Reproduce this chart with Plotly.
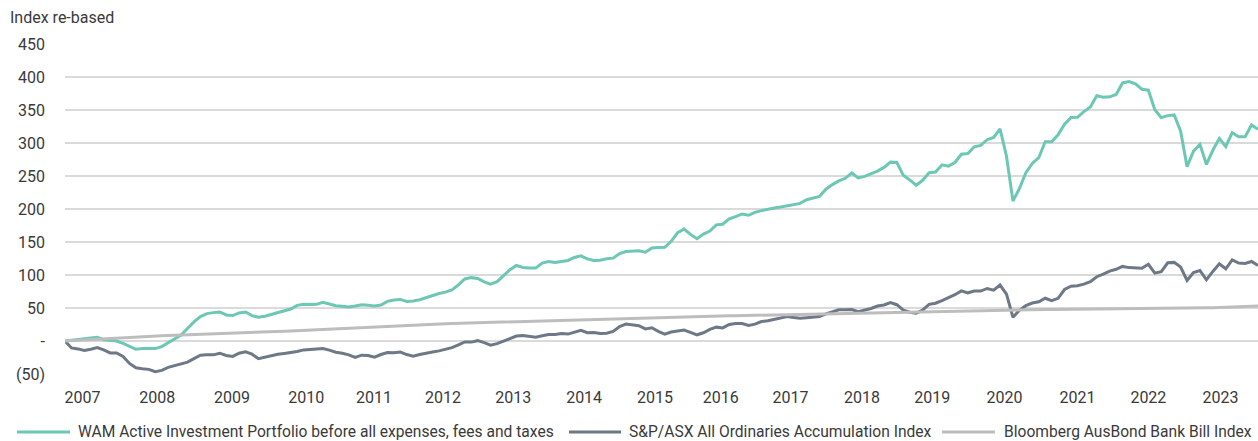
import plotly.graph_objects as go

# Monthly index values (re-based to 0), Jan 2008 -> Jun 2023
wam = [
    0, 1.5, 2.5, 3.5, 4.5, 5.6, 2, 0.5, 0, -3.5, -8.5, -12.5,
    -11.5, -11, -11.5, -8.5, -3, 3, 9, 19, 29, 37, 41.5, 43,
    44, 39.5, 38.5, 42.5, 44, 38.5, 36, 37.5, 40, 43, 46, 48.5,
    54, 55.5, 55.3, 55.5, 58.5, 56, 53.5, 52.7, 51.5, 53, 55, 54,
    53, 54.5, 60, 62, 63, 60, 60.5, 62.5, 66, 69, 72, 74,
    77.5, 85, 94, 96, 94.7, 89.5, 86, 90, 98.5, 108, 114.5, 111.5,
    110.5, 110.5, 118, 120.5, 119, 120, 122, 126.5, 129, 124.5, 122, 122.3,
    124.5, 125.5, 132.5, 135.5, 136.5, 136.8, 134.5, 141, 141.5, 142, 151, 164,
    169.5, 161.5, 155, 162, 166.5, 176, 177, 185, 188.5, 192.5, 190.5, 195,
    197.5, 200, 201.5, 203, 205, 206.3, 208.5, 214, 216.8, 219, 230, 237,
    242.5, 246.5, 254.5, 247, 249.5, 253, 257.5, 263, 271, 270.5, 251, 244,
    236, 243.5, 255, 256, 267, 265, 270.5, 283, 284, 294.2, 296.3, 305,
    308.5, 321.5, 280, 212, 231, 255, 269, 277.7, 302, 302, 312.5, 328.5,
    338.5, 338.8, 347.5, 354.5, 371.5, 369.5, 370, 373.5, 391, 393, 389.5, 381.5,
    380, 350.5, 338.5, 341.5, 342.5, 318, 264, 287.7, 298, 267.5, 289, 307,
    294.4, 315.7, 309.6, 309.4, 327.3, 320.7,
]

asx = [
    0, -10.5, -12, -14.5, -12.5, -10, -13.5, -18, -18, -23.5, -34, -40.5,
    -42, -43, -46.5, -44.5, -40, -37.5, -35.5, -32, -26.7, -21.5, -21, -21,
    -18.5, -22, -23.3, -18.5, -16.5, -20, -26.8, -24.5, -22.5, -20, -18.8, -17.8,
    -16, -13.5, -13, -11.8, -11.5, -13.8, -17, -18.5, -21, -25, -21.5, -22,
    -24.5, -20.5, -17.6, -17.7, -16.8, -20.5, -23, -20.5, -18, -16.6, -15, -12.8,
    -10, -6, -1.5, -1.7, 0.5, -2.5, -6.2, -4, 0, 3, 7.5, 8.3,
    7.6, 5.8, 8, 9.8, 10, 11.2, 10.5, 13.5, 16.3, 12.5, 13, 11.5,
    11.8, 14.5, 22, 25.6, 24.5, 23.2, 18.3, 20, 14.5, 10.5, 13.5, 15,
    16.5, 13, 9.4, 12.5, 17.7, 21, 19.8, 25, 26.5, 26.4, 23.7, 25.5,
    29.5, 30.6, 32.7, 35.5, 37.2, 35.5, 34.5, 35.3, 36, 37, 41, 44,
    47.3, 47.3, 47.7, 44.5, 46.5, 49.3, 53, 54.6, 58.2, 55, 46.8, 43.5,
    42.2, 47, 55.5, 57.2, 61.3, 65.3, 70.2, 76, 73, 75.6, 75.6, 79.6,
    77, 84.8, 71, 36, 46.5, 53.5, 57.5, 59.5, 64.8, 61, 64.6, 78,
    83, 83.8, 86.2, 90, 97.4, 101.2, 106, 108.6, 113, 111.2, 110.5, 110.1,
    116.2, 102.8, 105, 118.5, 119.1, 112, 91.7, 103.8, 106.9, 92.7, 105.4, 117,
    109.4, 123, 118, 117.5, 120.5, 114.5,
]

bill = [
    0, 0.6, 1.2, 1.8, 2.4, 3.0, 3.6, 4.2, 4.8, 5.4, 6.0, 6.6,
    7.2, 7.5, 7.8, 8.1, 8.4, 8.7, 9.0, 9.3, 9.6, 9.9, 10.2, 10.5,
    10.9, 11.3, 11.7, 12.1, 12.5, 12.9, 13.3, 13.7, 14.1, 14.5, 14.9, 15.3,
    15.8, 16.3, 16.8, 17.3, 17.8, 18.3, 18.8, 19.3, 19.8, 20.3, 20.8, 21.3,
    21.8, 22.2, 22.6, 23.0, 23.4, 23.8, 24.2, 24.6, 25.0, 25.4, 25.8, 26.2,
    26.6, 26.9, 27.2, 27.5, 27.8, 28.1, 28.4, 28.7, 29.0, 29.3, 29.6, 29.9,
    30.2, 30.5, 30.8, 31.1, 31.4, 31.7, 32.0, 32.3, 32.6, 32.9, 33.2, 33.5,
    33.8, 34.1, 34.3, 34.6, 34.8, 35.1, 35.3, 35.6, 35.8, 36.1, 36.3, 36.6,
    36.8, 37.0, 37.2, 37.4, 37.6, 37.8, 38.0, 38.2, 38.4, 38.6, 38.8, 39.0,
    39.2, 39.4, 39.6, 39.8, 40.0, 40.2, 40.4, 40.6, 40.8, 41.0, 41.2, 41.4,
    41.7, 41.9, 42.1, 42.4, 42.6, 42.8, 43.1, 43.3, 43.5, 43.8, 44.0, 44.2,
    44.5, 44.7, 44.9, 45.1, 45.3, 45.5, 45.7, 45.9, 46.1, 46.3, 46.5, 46.7,
    46.9, 47.1, 47.3, 47.4, 47.5, 47.6, 47.6, 47.7, 47.7, 47.7, 47.8, 47.8,
    47.8, 47.8, 47.8, 47.8, 47.9, 47.9, 47.9, 47.9, 47.9, 48.0, 48.1, 48.2,
    48.4, 48.5, 48.7, 48.9, 49.1, 49.3, 49.5, 49.7, 49.9, 50.2, 50.5, 50.8,
    51.1, 51.5, 51.9, 52.3, 52.7, 53.1,
]

year_labels = ["2007", "2008", "2009", "2010", "2011", "2012", "2013", "2014",
               "2015", "2016", "2017", "2018", "2019", "2020", "2021", "2022", "2023"]
y_tick_values = [-50, 0, 50, 100, 150, 200, 250, 300, 350, 400, 450]
y_tick_labels = ["(50)", "-", "50", "100", "150", "200", "250", "300", "350", "400", "450"]

series_names = [
    "WAM Active Investment Portfolio before all expenses, fees and taxes",
    "S&P/ASX All Ordinaries Accumulation Index",
    "Bloomberg AusBond Bank Bill Index",
]

# ---- layout constants ----
year_label_pos = [2.7, 14.3, 25.9, 37.4, 47.9, 58.6, 69.5, 80.5, 91.5, 101.7,
                  112.5, 123.6, 134.5, 145.7, 157.0, 168.0, 179.2]

W, H = 1258, 441
ML, MR, MT, MB = 65, 0, 44, 67
PW, PH = W - ML - MR, H - MT - MB

FONT = "Roboto"
TXT = "#3a3a3a"
colors = ["#6cc7b4", "#6e7886", "#bdbdbd"]

# legend key placement in pixels: (line start, line end, text start)
legend_px = [(17, 70, 76), (569, 621, 627), (942, 995, 1002)]
legend_y_px = 432


def px_x(p):
    return (p - ML) / PW


def px_y(p):
    return (H - MB - p) / PH


fig = go.Figure()
for name, vals, col in zip(series_names, [wam, asx, bill], colors):
    fig.add_trace(go.Scatter(
        x=list(range(len(vals))), y=vals, mode="lines", name=name,
        line=dict(color=col, width=3), hoverinfo="skip", showlegend=False,
    ))

shapes = []
annotations = [dict(
    text="Index re-based", xref="paper", yref="paper",
    x=px_x(8), y=px_y(18), xanchor="left", yanchor="middle",
    showarrow=False, font=dict(family=FONT, size=16, color=TXT),
)]
for name, col, (x0, x1, xt) in zip(series_names, colors, legend_px):
    shapes.append(dict(
        type="line", xref="paper", yref="paper",
        x0=px_x(x0), x1=px_x(x1), y0=px_y(legend_y_px), y1=px_y(legend_y_px),
        line=dict(color=col, width=3),
    ))
    annotations.append(dict(
        text=name, xref="paper", yref="paper",
        x=px_x(xt), y=px_y(legend_y_px), xanchor="left", yanchor="middle",
        showarrow=False, font=dict(family=FONT, size=15.6, color=TXT),
    ))

fig.update_layout(
    width=W, height=H,
    margin=dict(l=ML, r=MR, t=MT, b=MB),
    paper_bgcolor="white", plot_bgcolor="white",
    font=dict(family=FONT, size=16, color=TXT),
    showlegend=False,
    xaxis=dict(
        range=[0, len(wam) - 1], showgrid=False, zeroline=False, showline=False,
        tickmode="array", tickvals=year_label_pos, ticktext=year_labels,
        ticks="", ticklabelstandoff=12,
        tickfont=dict(family=FONT, size=16, color=TXT),
    ),
    yaxis=dict(
        range=[-50, 450], showgrid=True, gridcolor="#dadada", gridwidth=1.6,
        zeroline=False, showline=False,
        tickmode="array", tickvals=y_tick_values, ticktext=y_tick_labels,
        ticks="", ticklabelstandoff=19,
        tickfont=dict(family=FONT, size=16, color=TXT),
    ),
    shapes=shapes,
    annotations=annotations,
)

fig.write_html(
    "out.html",
    config={"displayModeBar": False, "staticPlot": True},
    post_script="document.body.style.margin='0';document.body.style.padding='0';",
)
